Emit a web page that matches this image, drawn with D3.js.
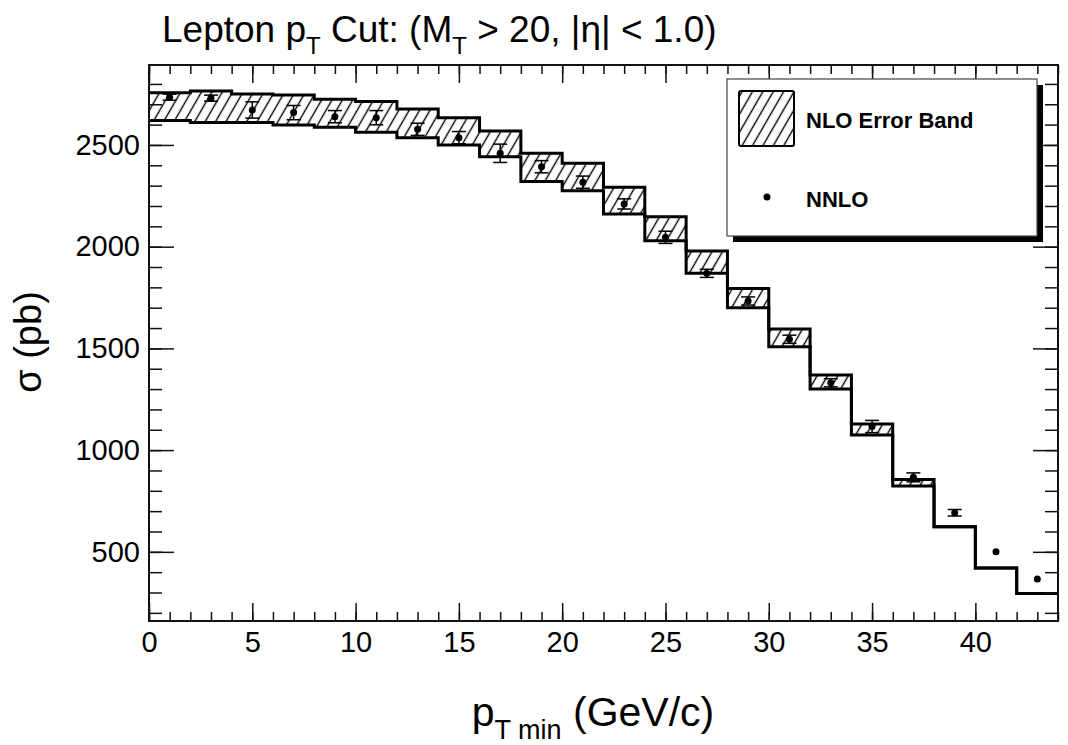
<!DOCTYPE html>
<html>
<head>
  <meta charset="utf-8">
  <script src="https://d3js.org/d3.v7.min.js"></script>
  <style>
    body { margin: 0; background: #fff; }
    text { font-family: "Liberation Sans", Arial, Helvetica, sans-serif; fill: #000; }
  </style>
</head>
<body>
  <script>
    // bins of 2 GeV from 0 to 44
    const binEdges = d3.range(0, 46, 2);
    const nloUpper = [2757, 2765, 2751, 2746, 2725, 2713, 2677, 2634, 2569, 2459, 2410,
                      2292, 2147, 1979, 1795, 1595, 1369, 1128, 856, 623, 421, 295];
    const nloLower = [2620, 2610, 2610, 2598, 2587, 2562, 2536, 2500, 2442, 2320, 2275,
                      2161, 2029, 1869, 1700, 1508, 1300, 1074, 823, 623, 421, 295];
    const nnloCenters = d3.range(1, 44, 2);
    const nnloValues = [2735, 2730, 2672, 2659, 2639, 2634, 2577, 2536, 2459, 2393, 2317,
                        2210, 2046, 1869, 1733, 1545, 1331, 1116, 866, 692, 500, 367];
    const nnloErrors = [15, 15, 40, 35, 30, 35, 30, 30, 45, 30, 30,
                        25, 30, 20, 20, 20, 20, 30, 22, 16, 5, 5];
    const xTickLabels = [0, 5, 10, 15, 20, 25, 30, 35, 40];
    const yTickLabels = [500, 1000, 1500, 2000, 2500];

    const w = 1068;
    const h = 745;
    const pLeft = 149, pRight = 1058, pTop = 65, pBottom = 621;

    const xScale = d3.scaleLinear().domain([0, 44]).range([pLeft, pRight]);
    const yScale = d3.scaleLinear().domain([160, 2893]).range([pBottom, pTop]);

    const svg = d3.select("body").append("svg")
      .attr("width", w)
      .attr("height", h);

    // hatch pattern for the NLO band
    const defs = svg.append("defs");
    defs.append("pattern")
      .attr("id", "hatch")
      .attr("patternUnits", "userSpaceOnUse")
      .attr("width", 9)
      .attr("height", 9)
      .attr("patternTransform", "rotate(30)")
      .append("line")
      .attr("x1", 4.5).attr("y1", 0)
      .attr("x2", 4.5).attr("y2", 9)
      .attr("stroke", "#000")
      .attr("stroke-width", 1.4);

    // band points at bin edges (last value repeated for the closing edge)
    const bandPts = binEdges.map((e, i) => {
      const k = Math.min(i, nloUpper.length - 1);
      return { x: e, hi: nloUpper[k], lo: nloLower[k] };
    });

    const area = d3.area()
      .x(d => xScale(d.x))
      .y0(d => yScale(d.lo))
      .y1(d => yScale(d.hi))
      .curve(d3.curveStepAfter);

    svg.append("path")
      .datum(bandPts)
      .attr("d", area)
      .attr("fill", "url(#hatch)");

    const upperLine = d3.line().x(d => xScale(d.x)).y(d => yScale(d.hi)).curve(d3.curveStepAfter);
    const lowerLine = d3.line().x(d => xScale(d.x)).y(d => yScale(d.lo)).curve(d3.curveStepAfter);
    [upperLine, lowerLine].forEach(ln => {
      svg.append("path")
        .datum(bandPts)
        .attr("d", ln)
        .attr("fill", "none")
        .attr("stroke", "#000")
        .attr("stroke-width", 3);
    });

    // NNLO points with error bars
    const nnlo = nnloCenters.map((c, i) => ({ x: c, y: nnloValues[i], e: nnloErrors[i] }));
    const pts = svg.append("g");
    pts.selectAll("line.err")
      .data(nnlo).enter().append("line")
      .attr("class", "err")
      .attr("x1", d => xScale(d.x)).attr("x2", d => xScale(d.x))
      .attr("y1", d => yScale(d.y - d.e)).attr("y2", d => yScale(d.y + d.e))
      .attr("stroke", "#000").attr("stroke-width", 1.5);
    [-1, 1].forEach(s => {
      pts.selectAll("line.cap" + (s + 1))
        .data(nnlo.filter(d => d.e > 8)).enter().append("line")
        .attr("class", "cap" + (s + 1))
        .attr("x1", d => xScale(d.x) - 7).attr("x2", d => xScale(d.x) + 7)
        .attr("y1", d => yScale(d.y + s * d.e)).attr("y2", d => yScale(d.y + s * d.e))
        .attr("stroke", "#000").attr("stroke-width", 1.5);
    });
    pts.selectAll("circle")
      .data(nnlo).enter().append("circle")
      .attr("cx", d => xScale(d.x))
      .attr("cy", d => yScale(d.y))
      .attr("r", 3.5)
      .attr("fill", "#000");

    // axes: major + minor ticks on all four sides
    function styleAxis(g, size) {
      g.select(".domain").remove();
      g.selectAll(".tick line").attr("stroke", "#111").attr("stroke-width", 1.5);
      g.selectAll("text").attr("font-size", size).attr("font-family", "Liberation Sans, Arial, sans-serif");
    }
    const xMinor = d3.range(0, 45, 1);
    const yMinor = d3.range(200, 2900, 100);

    svg.append("g")
      .attr("transform", "translate(0," + pBottom + ")")
      .call(d3.axisBottom(xScale).tickValues(xTickLabels).tickSize(-18).tickSizeOuter(0).tickPadding(10).tickFormat(d3.format("d")))
      .call(g => styleAxis(g, 29));
    svg.append("g")
      .attr("transform", "translate(0," + pBottom + ")")
      .call(d3.axisBottom(xScale).tickValues(xMinor).tickSize(-9).tickSizeOuter(0).tickFormat(""))
      .call(g => styleAxis(g, 0));
    svg.append("g")
      .attr("transform", "translate(0," + pTop + ")")
      .call(d3.axisTop(xScale).tickValues(xTickLabels).tickSize(-18).tickSizeOuter(0).tickFormat(""))
      .call(g => styleAxis(g, 0));
    svg.append("g")
      .attr("transform", "translate(0," + pTop + ")")
      .call(d3.axisTop(xScale).tickValues(xMinor).tickSize(-9).tickSizeOuter(0).tickFormat(""))
      .call(g => styleAxis(g, 0));

    svg.append("g")
      .attr("transform", "translate(" + pLeft + ",0)")
      .call(d3.axisLeft(yScale).tickValues(yTickLabels).tickSize(-25).tickSizeOuter(0).tickPadding(9).tickFormat(d3.format("d")))
      .call(g => styleAxis(g, 29));
    svg.append("g")
      .attr("transform", "translate(" + pLeft + ",0)")
      .call(d3.axisLeft(yScale).tickValues(yMinor).tickSize(-13).tickSizeOuter(0).tickFormat(""))
      .call(g => styleAxis(g, 0));
    svg.append("g")
      .attr("transform", "translate(" + pRight + ",0)")
      .call(d3.axisRight(yScale).tickValues(yTickLabels).tickSize(-25).tickSizeOuter(0).tickFormat(""))
      .call(g => styleAxis(g, 0));
    svg.append("g")
      .attr("transform", "translate(" + pRight + ",0)")
      .call(d3.axisRight(yScale).tickValues(yMinor).tickSize(-13).tickSizeOuter(0).tickFormat(""))
      .call(g => styleAxis(g, 0));

    // frame
    svg.append("rect")
      .attr("x", pLeft).attr("y", pTop)
      .attr("width", pRight - pLeft).attr("height", pBottom - pTop)
      .attr("fill", "none")
      .attr("stroke", "#111")
      .attr("stroke-width", 2);

    // legend with drop shadow
    const lg = svg.append("g");
    lg.append("rect")
      .attr("x", 733).attr("y", 85).attr("width", 310).attr("height", 157)
      .attr("fill", "#000");
    lg.append("rect")
      .attr("x", 727).attr("y", 79).attr("width", 310).attr("height", 157)
      .attr("fill", "#fff").attr("stroke", "#444").attr("stroke-width", 1.2);
    lg.append("rect")
      .attr("x", 739).attr("y", 91).attr("width", 55).attr("height", 55)
      .attr("rx", 2)
      .attr("fill", "url(#hatch)").attr("stroke", "#000").attr("stroke-width", 2);
    lg.append("text")
      .attr("x", 806).attr("y", 128)
      .attr("font-size", 22).attr("font-weight", "bold")
      .text("NLO Error Band");
    lg.append("circle")
      .attr("cx", 767).attr("cy", 197).attr("r", 3.5).attr("fill", "#000");
    lg.append("text")
      .attr("x", 806).attr("y", 207)
      .attr("font-size", 22).attr("font-weight", "bold")
      .text("NNLO");

    // title
    const title = svg.append("text")
      .attr("x", 162).attr("y", 42)
      .attr("font-size", 37);
    title.append("tspan").text("Lepton p");
    title.append("tspan").attr("font-size", 24).attr("dy", 12).text("T");
    title.append("tspan").attr("dy", -12).text(" Cut: (M");
    title.append("tspan").attr("font-size", 24).attr("dy", 12).text("T");
    title.append("tspan").attr("dy", -12).text(" > 20, |η| < 1.0)");

    // axis titles
    const xt = svg.append("text")
      .attr("x", 593).attr("y", 726)
      .attr("text-anchor", "middle")
      .attr("font-size", 41);
    xt.append("tspan").text("p");
    xt.append("tspan").attr("font-size", 27).attr("dy", 13).text("T min");
    xt.append("tspan").attr("dy", -13).text(" (GeV/c)");

    svg.append("text")
      .attr("transform", "translate(41,342) rotate(-90)")
      .attr("text-anchor", "middle")
      .attr("font-size", 38)
      .text("σ (pb)");
  </script>
</body>
</html>
